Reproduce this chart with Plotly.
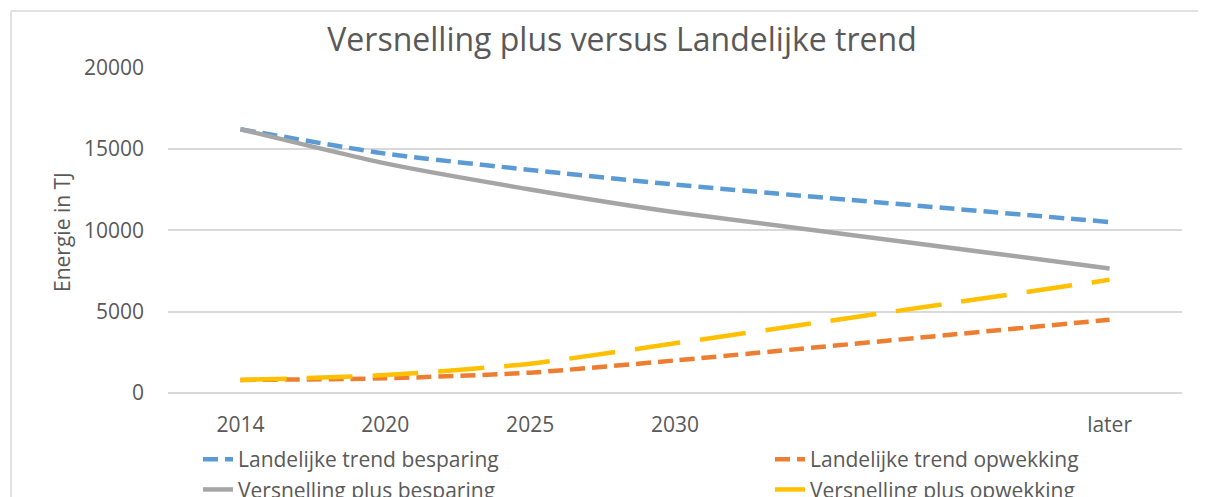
import plotly.graph_objects as go

# Categorieën op de x-as (twee lege plekken tussen 2030 en later)
jaren = ["2014", "2020", "2025", "2030", " ", "  ", "later"]

# Waarden in TJ
landelijk_besparing = [16200, 14700, 13700, 12800, None, None, 10500]
landelijk_opwekking = [800, 900, 1250, 2000, None, None, 4500]
versnelling_besparing = [16200, 14100, 12500, 11100, None, None, 7650]
versnelling_opwekking = [800, 1100, 1800, 3050, None, None, 6950]

tekst_kleur = "#595959"
grid_kleur = "#D9D9D9"
lettertype = "Open Sans"

# pagina heeft 8px marge links/boven, figuur loopt tot de rand van het venster
B, H = 1198, 489

fig = go.Figure()

series = [
    ("Landelijke trend besparing", landelijk_besparing, "#5B9BD5", "15px,7px", "legend"),
    ("Landelijke trend opwekking", landelijk_opwekking, "#ED7D31", "15px,7px", "legend2"),
    ("Versnelling plus besparing", versnelling_besparing, "#A5A5A5", "solid", "legend"),
    ("Versnelling plus opwekking", versnelling_opwekking, "#FFC000", "46px,20px", "legend2"),
]

for naam, waarden, kleur, streep, leg in series:
    fig.add_trace(go.Scatter(
        x=jaren, y=waarden, name=naam, mode="lines",
        connectgaps=True, legend=leg,
        line=dict(color=kleur, width=4.5, dash=streep, shape="spline", smoothing=0.6),
    ))

# Kader rond het grafiekgebied: alleen boven- en linkerrand zijn zichtbaar
fig.add_shape(type="line", xref="paper", yref="paper",
              x0=-0.1548, x1=1.05, y0=1.1718, y1=1.1718,
              line=dict(color=grid_kleur, width=1.5), layer="below")
fig.add_shape(type="line", xref="paper", yref="paper",
              x0=-0.1548, x1=-0.1548, y0=-0.45, y1=1.1718,
              line=dict(color=grid_kleur, width=1.5), layer="below")

# as-titel
fig.add_annotation(text="Energie in TJ", xref="paper", yref="paper",
                   x=-0.1045, y=0.494, textangle=-90, showarrow=False,
                   xanchor="center", yanchor="middle",
                   font=dict(size=21, color=tekst_kleur, family=lettertype))

leg_stijl = dict(orientation="v", xref="container", yref="container",
                 xanchor="left", yanchor="top",
                 font=dict(size=21, color=tekst_kleur, family=lettertype),
                 bgcolor="rgba(0,0,0,0)", tracegroupgap=0)

fig.update_layout(
    width=B, height=H,
    margin=dict(l=160, r=24, t=59, b=104, autoexpand=False),
    paper_bgcolor="white", plot_bgcolor="white",
    font=dict(family=lettertype, color=tekst_kleur, size=21),
    title=dict(text="Versnelling plus versus Landelijke trend",
               xref="container", yref="container",
               x=614 / B, y=1 - 32 / H, xanchor="center", yanchor="middle",
               font=dict(size=32, color=tekst_kleur, family=lettertype)),
    showlegend=True,
    legend=dict(x=190 / B, y=1 - 431 / H, **leg_stijl),
    legend2=dict(x=762 / B, y=1 - 431 / H, **leg_stijl),
)

fig.update_xaxes(type="category", categoryorder="array", categoryarray=jaren,
                 showgrid=False, showline=False, zeroline=False, automargin=False,
                 ticks="outside", ticklen=13, tickcolor="rgba(0,0,0,0)",
                 tickfont=dict(size=21, color=tekst_kleur),
                 range=[-0.5, 6.5])

fig.update_yaxes(range=[0, 20020], tickvals=[0, 5000, 10000, 15000, 20000],
                 showgrid=True, gridcolor=grid_kleur, automargin=False,
                 gridwidth=1.5, zeroline=True, zerolinecolor=grid_kleur, zerolinewidth=1.5,
                 showline=False, tickformat="d", ticklabelstandoff=23,
                 tickfont=dict(size=21, color=tekst_kleur))

fig.write_html("out.html", post_script="document.body.style.overflow='hidden';")
